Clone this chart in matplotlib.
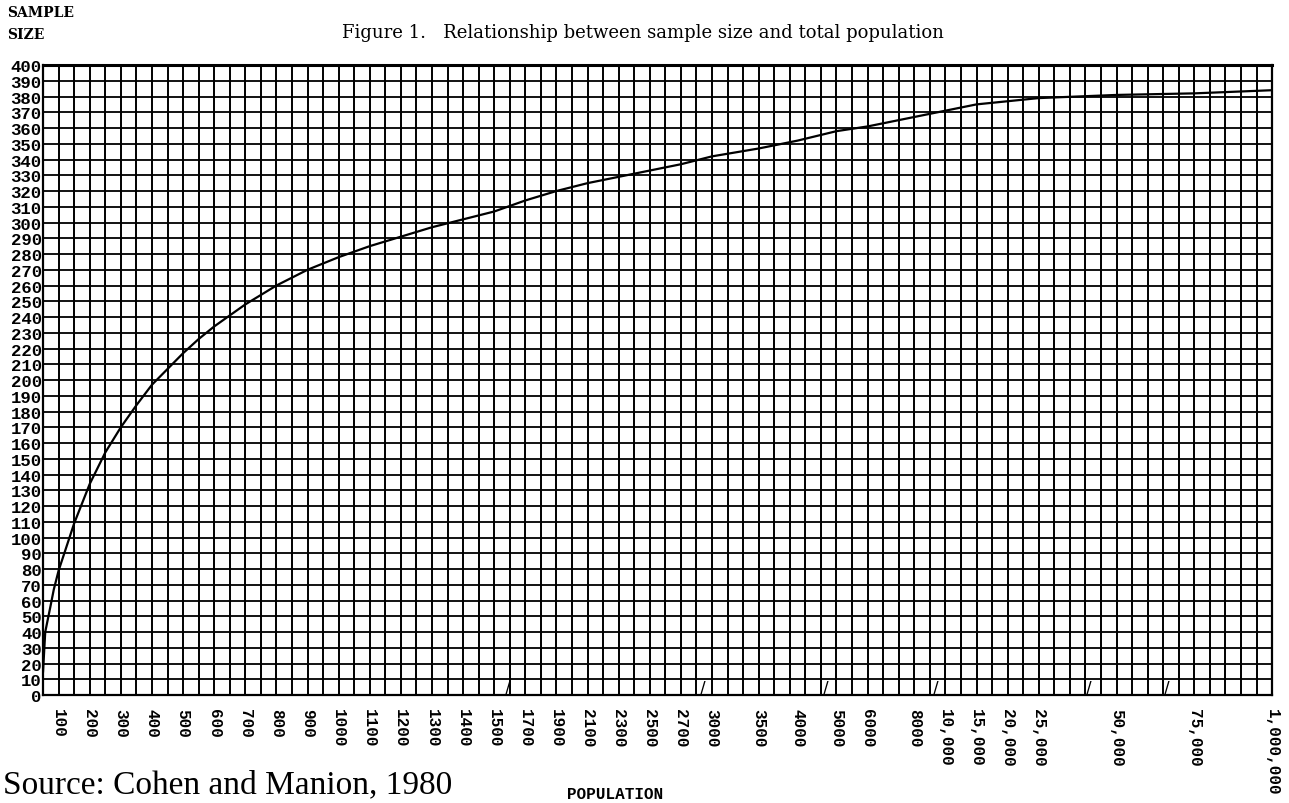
import numpy as np
import matplotlib
matplotlib.use("Agg")
import matplotlib.pyplot as plt
from matplotlib.ticker import FixedLocator

# population tick labels and the grid column each one sits on
tick_pops = [100, 200, 300, 400, 500, 600, 700, 800, 900, 1000, 1100, 1200, 1300,
             1400, 1500, 1700, 1900, 2100, 2300, 2500, 2700, 3000, 3500, 4000, 5000,
             6000, 8000, 10000, 15000, 20000, 25000, 50000, 75000, 1000000]
tick_labels = ["100", "200", "300", "400", "500", "600", "700", "800", "900", "1000",
               "1100", "1200", "1300", "1400", "1500", "1700", "1900", "2100", "2300",
               "2500", "2700", "3000", "3500", "4000", "5000", "6000", "8000",
               "10,000", "15,000", "20,000", "25,000", "50,000", "75,000", "1,000,000"]
tick_slots = [1, 3, 5, 7, 9, 11, 13, 15, 17, 19, 21, 23, 25, 27, 29, 31, 33, 35, 37,
              39, 41, 43, 46, 48.5, 51, 53, 56, 58, 60, 62, 64, 69, 74, 79]
break_slots = [29.9, 42.4, 50.3, 57.4, 67.2, 72.2]

# curve
population = [0, 14, 47, 69, 100, 150, 200, 250, 300, 350, 400, 450, 500, 550, 600,
              650, 700, 750, 800, 850, 900, 950, 1000, 1100, 1200, 1300, 1400, 1500,
              1700, 1900, 2100, 2300, 2500, 2700, 3000, 3500, 4000, 5000, 6000, 8000,
              10000, 15000, 20000, 25000, 50000, 75000, 1000000]
sample = [15, 40, 56, 67, 79, 109, 134, 154, 170, 184, 197, 207, 217, 226, 234,
          241, 248, 254, 260, 265, 270, 274, 278, 285, 291, 297, 302, 307,
          314, 320, 325, 329, 333, 337, 342, 347, 352, 358, 361, 367,
          371, 375, 377, 379, 381, 382, 384]

anchor_pop = np.array([0] + tick_pops, dtype=float)
anchor_slot = np.array([0] + tick_slots, dtype=float)


def fwd(x):
    return np.interp(x, anchor_pop, anchor_slot)


def inv(g):
    return np.interp(g, anchor_slot, anchor_pop)


mono = "Liberation Mono"

fig = plt.figure(figsize=(12.89, 8.04), dpi=100)
ax = fig.add_axes([0.0334, 0.1343, 0.9535, 0.7836])
ax.set_xscale("function", functions=(fwd, inv))
ax.set_xlim(0, 1000000)
ax.set_ylim(0, 400)

ax.xaxis.remove_overlapping_locs = False
ax.xaxis.set_major_locator(FixedLocator(tick_pops))
ax.xaxis.set_minor_locator(FixedLocator(inv(np.arange(0, 80))))
ax.set_xticklabels(tick_labels, rotation=-90, fontfamily=mono, fontweight="bold",
                   fontsize=11.5, va="top", ha="center")
ax.set_yticks(np.arange(0, 401, 10))
ax.set_yticklabels([str(v) for v in range(0, 401, 10)], fontfamily=mono,
                   fontweight="bold", fontsize=12.5)
ax.tick_params(axis="both", which="both", length=0)
ax.tick_params(axis="x", pad=9)
ax.tick_params(axis="y", pad=1)

ax.grid(True, which="minor", axis="x", color="black", lw=1.4)
ax.grid(True, which="major", axis="y", color="black", lw=1.3)
for s in ax.spines.values():
    s.set_linewidth(1.6)
ax.spines["top"].set_linewidth(2.2)

ax.plot(population, sample, color="black", lw=1.6, zorder=3)

# little break marks along the bottom row
for g in break_slots:
    ax.text(inv(g), 5, "/", fontsize=12, ha="center", va="center", clip_on=False)

fig.text(0.0054, 0.984, "SAMPLE", fontfamily="DejaVu Serif", fontweight="bold",
         fontsize=10, ha="left", va="center")
fig.text(0.0054, 0.956, "SIZE", fontfamily="DejaVu Serif", fontweight="bold",
         fontsize=10, ha="left", va="center")
fig.text(0.2653, 0.959, "Figure 1.   Relationship between sample size and total population",
         fontfamily="DejaVu Serif", fontsize=13, ha="left", va="center")
fig.text(0.0023, 0.0236, "Source: Cohen and Manion, 1980", fontfamily="Liberation Serif",
         fontsize=24, ha="left", va="center")
fig.text(0.477, 0.0124, "POPULATION", fontfamily=mono, fontweight="bold",
         fontsize=11.5, ha="center", va="center")

fig.savefig("out.png", dpi=100)
